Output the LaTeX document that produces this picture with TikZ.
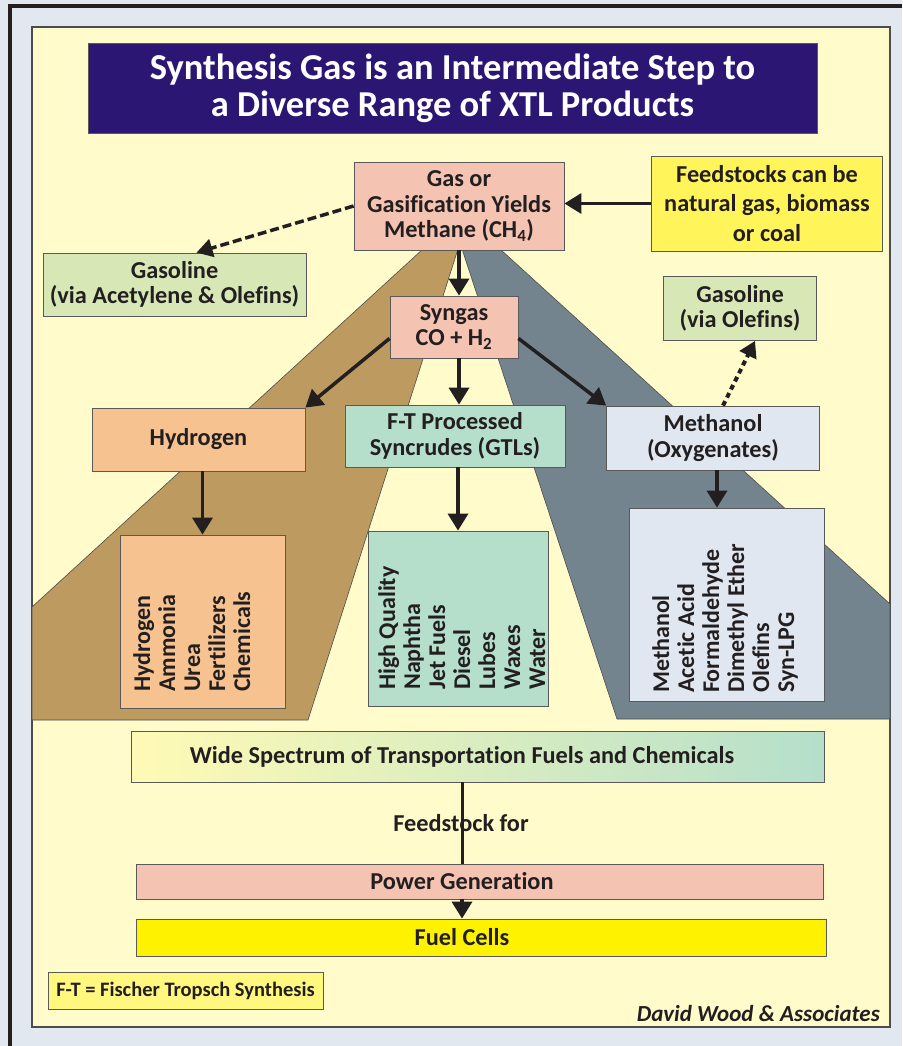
\documentclass[tikz,border=0pt]{standalone}
\usepackage{fontspec}
\setmainfont[Ligatures=NoCommon]{Carlito}
\usetikzlibrary{arrows.meta}

\definecolor{outerbg}{HTML}{E1E8EF}
\definecolor{panel}{HTML}{FFFBCA}
\definecolor{navy}{HTML}{2B1673}
\definecolor{salmon}{HTML}{F5C3B2}
\definecolor{peach}{HTML}{F6C390}
\definecolor{mint}{HTML}{B5DFCB}
\definecolor{paleblue}{HTML}{E0E7F0}
\definecolor{sage}{HTML}{D7E8B6}
\definecolor{lemon}{HTML}{FFF55A}
\definecolor{fuelyellow}{HTML}{FFF200}
\definecolor{legendyellow}{HTML}{FFF77E}
\definecolor{brownband}{HTML}{BD9B60}
\definecolor{slateband}{HTML}{74848F}
\definecolor{ink}{HTML}{231F20}

\tikzset{
  box/.style={draw=black!65, line width=0.8pt, fill=#1, text=ink, align=center,
    inner sep=0pt, font=\bfseries\fontsize{24.3}{25.5}\selectfont},
  prodtext/.style={rotate=90, anchor=north west, align=left, inner sep=0pt,
    text=ink, font=\bfseries\fontsize{24}{25}\selectfont},
  plain/.style={text=ink, inner sep=0pt, font=\bfseries\fontsize{24.3}{25}\selectfont},
  flow/.style={line width=3.5pt, draw=ink, -{Triangle[length=17pt,width=20pt]}},
  dashflow/.style={line width=3.5pt, draw=ink, dash pattern=on 9pt off 4pt,
    -{Triangle[length=16pt,width=18pt]}},
  dotflow/.style={line width=4pt, draw=ink, dash pattern=on 5pt off 4pt,
    -{Triangle[length=16pt,width=18pt]}},
  band/.style={draw=black!70, line width=0.6pt}
}

\begin{document}
\begin{tikzpicture}[x=1pt,y=-1pt]
  \useasboundingbox (0,0) rectangle (902,1046);
  \fill[outerbg] (0,0) rectangle (902,1046);
  \draw[line width=3.5pt, ink] (10,1046) -- (10,6) -- (902,6);
  \draw[fill=panel, draw=black!70, line width=1.2pt] (32,27) rectangle (890,1027);

  % the two coloured bands behind the boxes
  \filldraw[band, fill=brownband] (423,249) -- (458,249) -- (308,720) -- (32,720) -- (32,607) -- cycle;
  \filldraw[band, fill=slateband] (462,249) -- (500,249) -- (890,604) -- (890,719) -- (617,719) -- cycle;

  \node[box=navy, text=white, minimum width=729, minimum height=90,
    font=\bfseries\fontsize{36.5}{37}\selectfont] (title) at (452.5,88)
    {Synthesis Gas is an Intermediate Step to\\a Diverse Range of XTL Products};

  \node[box=salmon, minimum width=210, minimum height=88] (gas) at (459,206)
    {Gas or\\Gasification Yields\\Methane (CH\textsubscript{4})};
  \node[box=lemon, minimum width=231, minimum height=95,
    font=\bfseries\fontsize{24.3}{29.5}\selectfont] (feed) at (767,203.5)
    {Feedstocks can be\\natural gas, biomass\\or coal};
  \node[box=sage, minimum width=263, minimum height=63] (gasl) at (174.5,284.5)
    {Gasoline\\(via Acetylene \& Olefins)};
  \node[box=sage, minimum width=153, minimum height=64] (gasr) at (740,308.5)
    {Gasoline\\(via Olefins)};
  \node[box=salmon, minimum width=128, minimum height=62] (syn) at (454,327)
    {Syngas\\CO + H\textsubscript{2}};

  \node[box=peach, minimum width=213, minimum height=63] (hyd) at (198.5,439.5) {Hydrogen};
  \node[box=mint, minimum width=220, minimum height=62] (ft) at (455,436)
    {F-T Processed\\Syncrudes (GTLs)};
  \node[box=paleblue, minimum width=213, minimum height=64] (meth) at (713,438)
    {Methanol\\(Oxygenates)};

  % product lists
  \node[box=peach, minimum width=165, minimum height=173] (hprod) at (202.5,621.5) {};
  \node[prodtext] (hlist) at (133,692) {Hydrogen\\Ammonia\\Urea\\Fertilizers\\Chemicals};
  \node[box=mint, minimum width=180, minimum height=175] (ftprod) at (458,618.5) {};
  \node[prodtext] (ftlist) at (378,690) {High Quality\\Naphtha\\Jet Fuels\\Diesel\\Lubes\\Waxes\\Water};
  \node[box=paleblue, minimum width=195, minimum height=193] (mprod) at (726.5,604.5) {};
  \node[prodtext] (mlist) at (652,693) {Methanol\\Acetic Acid\\Formaldehyde\\Dimethyl Ether\\Olefins\\Syn-LPG};

  % connectors
  \draw[flow] (feed.west) -- (feed.west -| gas.east);
  \draw[dashflow] (gas.west) -- ([xshift=22pt]gasl.north);
  \draw[flow] (gas.south) -- (gas.south |- syn.north);
  \draw[flow] ([yshift=20pt]syn.south west) -- (hyd.north east);
  \draw[flow] (gas.south |- syn.south) -- (gas.south |- ft.north);
  \draw[flow] ([yshift=20pt]syn.south east) -- (meth.north west);
  \draw[dotflow] ([xshift=10pt]meth.north) -- ([xshift=15pt]gasr.south);
  \draw[flow] (hprod.north |- hyd.south) -- (hprod.north);
  \draw[flow] (ftprod.north |- ft.south) -- (ftprod.north);
  \draw[flow] ([xshift=4pt]meth.south) -- ([xshift=4pt]meth.south |- mprod.north);

  % bottom part
  \coordinate (spine) at (462,0);
  \node[box=white, left color=lemon!45, middle color=sage, right color=mint,
    minimum width=693, minimum height=51] (wide) at (477.5,756.5) {};
  \node[plain] (widetext) at (spine |- wide.center) {Wide Spectrum of Transportation Fuels and Chemicals};
  \node[box=salmon, minimum width=687, minimum height=35] (power) at (479.5,881.5) {};
  \node[plain] (powertext) at (spine |- power.center) {Power Generation};
  \node[box=fuelyellow, minimum width=690, minimum height=37] (fuel) at (481,937.5) {};
  \node[plain] (fueltext) at (spine |- fuel.center) {Fuel Cells};

  \node[plain] (feedlbl) at (461,823) {Feedstock for};
  \draw[line width=3pt, ink] (spine |- wide.south) -- (spine |- power.north);
  \draw[flow] (spine |- power.south) -- (spine |- fuel.north);

  \node[box=legendyellow, minimum width=275, minimum height=37,
    font=\bfseries\fontsize{20.5}{22}\selectfont] (legend) at (185.5,991)
    {F-T = Fischer Tropsch Synthesis};
  \node[plain, anchor=east, font=\bfseries\itshape\fontsize{23}{23}\selectfont]
    (credit) at (880,1014) {David Wood \& Associates};
\end{tikzpicture}
\end{document}
